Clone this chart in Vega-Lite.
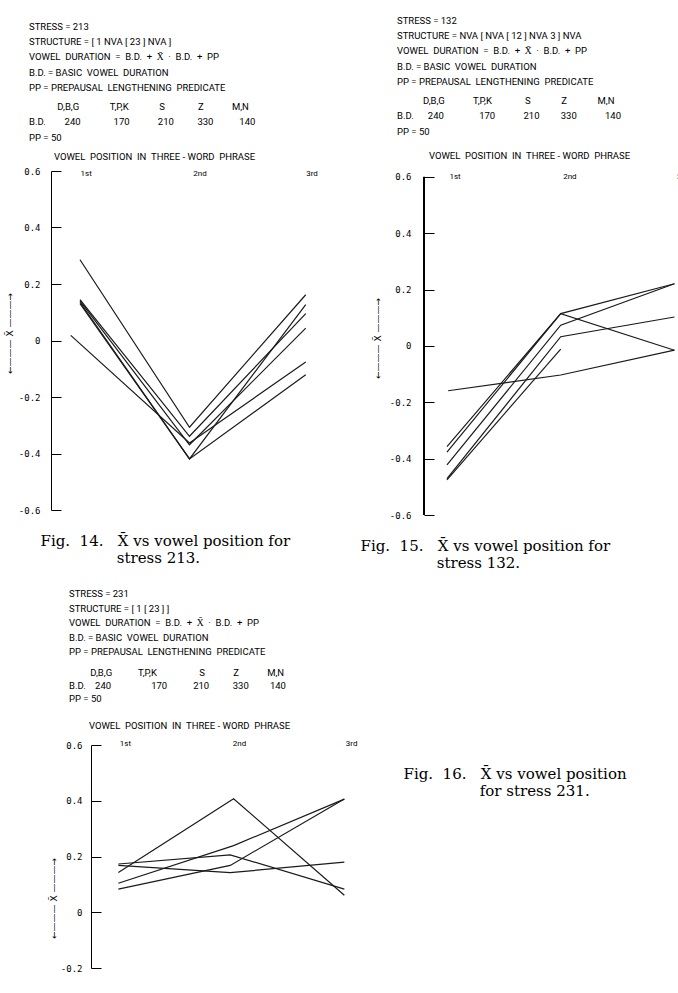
{
  "$schema": "https://vega.github.io/schema/vega-lite/v6.json",
  "background": "white",
  "padding": {"left": 5, "top": 15, "right": 0, "bottom": 0},
  "config": {
    "view": {"stroke": null},
    "axis": {"grid": false, "domainColor": "black", "tickColor": "black", "labelColor": "black", "titleColor": "black", "labelOverlap": false, "labelFlush": false},
    "title": {"color": "black", "subtitleColor": "black"}
  },
  "datasets": {
    "fig14": [
      {"s": "a", "pos": 1, "v": 0.286}, {"s": "a", "pos": 1.97, "v": -0.307}, {"s": "a", "pos": 3, "v": 0.162},
      {"s": "b", "pos": 1, "v": 0.145}, {"s": "b", "pos": 1.97, "v": -0.339}, {"s": "b", "pos": 3, "v": 0.095},
      {"s": "c", "pos": 1, "v": 0.140}, {"s": "c", "pos": 1.97, "v": -0.369}, {"s": "c", "pos": 3, "v": 0.044},
      {"s": "d", "pos": 1, "v": 0.135}, {"s": "d", "pos": 1.97, "v": -0.419}, {"s": "d", "pos": 3, "v": 0.127},
      {"s": "e", "pos": 1, "v": 0.130}, {"s": "e", "pos": 1.97, "v": -0.419}, {"s": "e", "pos": 3, "v": -0.121},
      {"s": "f", "pos": 0.918, "v": 0.018}, {"s": "f", "pos": 1.97, "v": -0.363}, {"s": "f", "pos": 3, "v": -0.076}
    ],
    "fig15": [
      {"s": "a", "pos": 1.01, "v": -0.159}, {"s": "a", "pos": 2, "v": -0.103}, {"s": "a", "pos": 3, "v": -0.015},
      {"s": "b", "pos": 1, "v": -0.357}, {"s": "b", "pos": 2, "v": 0.115}, {"s": "b", "pos": 3, "v": 0.221},
      {"s": "c", "pos": 1, "v": -0.377}, {"s": "c", "pos": 2, "v": 0.115}, {"s": "c", "pos": 3, "v": -0.015},
      {"s": "d", "pos": 1, "v": -0.422}, {"s": "d", "pos": 2, "v": 0.074}, {"s": "d", "pos": 3, "v": 0.221},
      {"s": "e", "pos": 1, "v": -0.471}, {"s": "e", "pos": 2, "v": 0.033}, {"s": "e", "pos": 3, "v": 0.103},
      {"s": "f", "pos": 1, "v": -0.475}, {"s": "f", "pos": 2, "v": -0.011}
    ],
    "fig16": [
      {"s": "a", "pos": 1, "v": 0.143}, {"s": "a", "pos": 2.02, "v": 0.407}, {"s": "a", "pos": 3, "v": 0.061},
      {"s": "b", "pos": 1, "v": 0.173}, {"s": "b", "pos": 1.99, "v": 0.206}, {"s": "b", "pos": 3, "v": 0.083},
      {"s": "c", "pos": 1, "v": 0.168}, {"s": "c", "pos": 1.99, "v": 0.142}, {"s": "c", "pos": 3, "v": 0.180},
      {"s": "d", "pos": 1, "v": 0.104}, {"s": "d", "pos": 2.02, "v": 0.239}, {"s": "d", "pos": 3, "v": 0.406},
      {"s": "e", "pos": 1, "v": 0.083}, {"s": "e", "pos": 1.99, "v": 0.168}, {"s": "e", "pos": 3, "v": 0.406}
    ]
  },
  "columns": 2,
  "spacing": {"row": 230, "column": 73},
  "bounds": "flush",
  "concat": [
    {
      "width": 300, "height": 339,
      "data": {"name": "fig14"},
      "title": {
        "text": ["STRESS = 213", "STRUCTURE = [ 1 NVA [ 23 ] NVA ]", "VOWEL\u00a0\u00a0DURATION\u00a0\u00a0=\u00a0\u00a0B.D.\u00a0\u00a0+\u00a0\u00a0X\u0304\u00a0\u00a0\u00b7\u00a0\u00a0B.D.\u00a0\u00a0+\u00a0\u00a0PP", "B.D. = BASIC\u00a0\u00a0VOWEL\u00a0\u00a0DURATION", "PP = PREPAUSAL\u00a0\u00a0LENGTHENING\u00a0\u00a0PREDICATE"],
        "subtitle": [
          "\u200b\u00a0\u00a0\u00a0\u00a0\u00a0\u00a0\u00a0\u00a0\u00a0\u00a0\u00a0\u00a0D,B,G\u00a0\u00a0\u00a0\u00a0\u00a0\u00a0\u00a0\u00a0\u00a0\u00a0\u00a0\u00a0\u00a0T,P,K\u00a0\u00a0\u00a0\u00a0\u00a0\u00a0\u00a0\u00a0\u00a0\u00a0\u00a0\u00a0\u00a0S\u00a0\u00a0\u00a0\u00a0\u00a0\u00a0\u00a0\u00a0\u00a0\u00a0\u00a0\u00a0\u00a0\u00a0Z\u00a0\u00a0\u00a0\u00a0\u00a0\u00a0\u00a0\u00a0\u00a0\u00a0\u00a0\u00a0M,N",
          "B.D.\u00a0\u00a0\u00a0\u00a0\u00a0\u00a0\u00a0\u00a0240\u00a0\u00a0\u00a0\u00a0\u00a0\u00a0\u00a0\u00a0\u00a0\u00a0\u00a0\u00a0\u00a0\u00a0170\u00a0\u00a0\u00a0\u00a0\u00a0\u00a0\u00a0\u00a0\u00a0\u00a0\u00a0\u00a0210\u00a0\u00a0\u00a0\u00a0\u00a0\u00a0\u00a0\u00a0\u00a0\u00a0330\u00a0\u00a0\u00a0\u00a0\u00a0\u00a0\u00a0\u00a0\u00a0\u00a0\u00a0140",
          "PP = 50"],
        "anchor": "start", "frame": "group", "dx": -22, "offset": 9,
        "font": "Roboto", "fontSize": 9.5, "fontWeight": "normal", "lineHeight": 15.3,
        "subtitleFont": "Roboto", "subtitleFontSize": 9.5, "subtitleLineHeight": 15.5, "subtitlePadding": 9
      },
      "layer": [
        {
          "mark": {"type": "line", "color": "#1a1a1a", "strokeWidth": 1.2},
          "encoding": {
            "x": {"field": "pos", "type": "quantitative", "scale": {"domain": [0.743, 3.401], "nice": false, "zero": false},
              "axis": {"orient": "top", "values": [1, 2, 3], "labelExpr": "datum.value == 1 ? '1st' : datum.value == 2 ? '2nd' : '3rd'", "domain": false, "ticks": false, "tickSize": 0, "labelAlign": "left", "labelBaseline": "middle", "labelPadding": -2, "labelFont": "Roboto", "labelFontSize": 8,
                "title": "VOWEL\u00a0\u00a0POSITION\u00a0\u00a0IN\u00a0\u00a0THREE\u00a0-\u00a0WORD\u00a0\u00a0PHRASE", "titleX": 103, "titleY": -15, "titleAlign": "center", "titleBaseline": "middle", "titleFont": "Roboto", "titleFontSize": 9.5, "titleFontWeight": "normal"}},
            "y": {"field": "v", "type": "quantitative", "scale": {"domain": [-0.6, 0.6], "nice": false, "zero": false},
              "axis": {"values": [-0.6, -0.4, -0.2, 0, 0.2, 0.4, 0.6], "labelExpr": "datum.value == 0 ? '0' : replace(format(datum.value, '.1f'), '\u2212', '-')", "tickSize": -10, "labelPadding": 21, "labelFont": "DejaVu Sans Mono", "labelFontSize": 9,
                "title": "\u2190\u2014\u2014\u2014 X\u0304 \u2014\u2014\u2014\u2192", "titleX": -42, "titleY": 162, "titleAngle": -90, "titleAlign": "center", "titleBaseline": "middle", "titleFont": "DejaVu Sans", "titleFontSize": 9, "titleFontWeight": "normal", "titleColor": "black"}},
            "detail": {"field": "s"}
          }
        },
        {
          "mark": {"type": "line", "opacity": 0},
          "encoding": {
            "x": {"field": "pos", "type": "quantitative",
              "axis": {"orient": "bottom", "domain": false, "ticks": false, "labels": false,
                "title": ["Fig.\u00a0\u00a014.\u00a0\u00a0\u00a0X\u0304 vs vowel position for", "\u200b\u00a0\u00a0\u00a0\u00a0\u00a0\u00a0\u00a0\u00a0\u00a0\u00a0\u00a0\u00a0\u00a0\u00a0\u00a0\u00a0stress 213."],
                "titleX": -11, "titleY": 30, "titleAlign": "left", "titleBaseline": "middle", "titleAngle": 0, "titleFont": "DejaVu Serif", "titleFontSize": 15, "titleFontWeight": "normal", "titleLineHeight": 17.5}},
            "y": {"field": "v", "type": "quantitative", "axis": null},
            "detail": {"field": "s"}
          }
        }
      ],
      "resolve": {"axis": {"x": "independent", "y": "independent"}}
    },
    {
      "width": 270, "height": 344,
      "data": {"name": "fig15"},
      "title": {
        "text": ["STRESS = 132", "STRUCTURE = NVA [ NVA [ 12 ] NVA 3 ] NVA", "VOWEL\u00a0\u00a0DURATION\u00a0\u00a0=\u00a0\u00a0B.D.\u00a0\u00a0+\u00a0\u00a0X\u0304\u00a0\u00a0\u00b7\u00a0\u00a0B.D.\u00a0\u00a0+\u00a0\u00a0PP", "B.D. = BASIC\u00a0\u00a0VOWEL\u00a0\u00a0DURATION", "PP = PREPAUSAL\u00a0\u00a0LENGTHENING\u00a0\u00a0PREDICATE"],
        "subtitle": [
          "\u200b\u00a0\u00a0\u00a0\u00a0\u00a0\u00a0\u00a0\u00a0\u00a0\u00a0\u00a0D,B,G\u00a0\u00a0\u00a0\u00a0\u00a0\u00a0\u00a0\u00a0\u00a0\u00a0\u00a0\u00a0T,P,K\u00a0\u00a0\u00a0\u00a0\u00a0\u00a0\u00a0\u00a0\u00a0\u00a0\u00a0\u00a0\u00a0\u00a0S\u00a0\u00a0\u00a0\u00a0\u00a0\u00a0\u00a0\u00a0\u00a0\u00a0\u00a0\u00a0\u00a0Z\u00a0\u00a0\u00a0\u00a0\u00a0\u00a0\u00a0\u00a0\u00a0\u00a0\u00a0\u00a0\u00a0M,N",
          "B.D.\u00a0\u00a0\u00a0\u00a0\u00a0\u00a0240\u00a0\u00a0\u00a0\u00a0\u00a0\u00a0\u00a0\u00a0\u00a0\u00a0\u00a0\u00a0\u00a0\u00a0\u00a0170\u00a0\u00a0\u00a0\u00a0\u00a0\u00a0\u00a0\u00a0\u00a0\u00a0\u00a0\u00a0210\u00a0\u00a0\u00a0\u00a0\u00a0\u00a0\u00a0\u00a0\u00a0330\u00a0\u00a0\u00a0\u00a0\u00a0\u00a0\u00a0\u00a0\u00a0\u00a0\u00a0\u00a0140",
          "PP = 50"],
        "anchor": "start", "frame": "group", "dx": -27, "offset": 14,
        "font": "Roboto", "fontSize": 9.5, "fontWeight": "normal", "lineHeight": 15.3,
        "subtitleFont": "Roboto", "subtitleFontSize": 9.5, "subtitleLineHeight": 15.5, "subtitlePadding": 9
      },
      "layer": [
        {
          "mark": {"type": "line", "color": "#1a1a1a", "strokeWidth": 1.2},
          "encoding": {
            "x": {"field": "pos", "type": "quantitative", "scale": {"domain": [0.798, 3.172], "nice": false, "zero": false},
              "axis": {"orient": "top", "values": [1, 2, 3], "labelExpr": "datum.value == 1 ? '1st' : datum.value == 2 ? '2nd' : '3rd'", "domain": false, "ticks": false, "tickSize": 0, "labelAlign": "left", "labelBaseline": "middle", "labelPadding": -5, "labelOffset": 2, "labelFont": "Roboto", "labelFontSize": 8,
                "title": "VOWEL\u00a0\u00a0POSITION\u00a0\u00a0IN\u00a0\u00a0THREE\u00a0-\u00a0WORD\u00a0\u00a0PHRASE", "titleX": 105, "titleY": -16, "titleAlign": "center", "titleBaseline": "middle", "titleFont": "Roboto", "titleFontSize": 9.5, "titleFontWeight": "normal"}},
            "y": {"field": "v", "type": "quantitative", "scale": {"domain": [-0.6, 0.6212], "nice": false, "zero": false},
              "axis": {"values": [-0.6, -0.4, -0.2, 0, 0.2, 0.4, 0.6], "labelExpr": "datum.value == 0 ? '0' : replace(format(datum.value, '.1f'), '\u2212', '-')", "domain": false, "tickSize": -10, "labelPadding": 23, "labelFont": "DejaVu Sans Mono", "labelFontSize": 9,
                "title": "\u2190\u2014\u2014\u2014 X\u0304 \u2014\u2014\u2014\u2192", "titleX": -47, "titleY": 167, "titleAngle": -90, "titleAlign": "center", "titleBaseline": "middle", "titleFont": "DejaVu Sans", "titleFontSize": 9, "titleFontWeight": "normal", "titleColor": "black"}},
            "detail": {"field": "s"}
          }
        },
        {
          "mark": {"type": "rule", "color": "black", "strokeWidth": 1},
          "encoding": {
            "x": {"datum": 0.798, "type": "quantitative", "axis": null},
            "y": {"datum": -0.6, "type": "quantitative", "axis": null},
            "y2": {"datum": 0.6}
          }
        },
        {
          "mark": {"type": "line", "opacity": 0},
          "encoding": {
            "x": {"field": "pos", "type": "quantitative",
              "axis": {"orient": "bottom", "domain": false, "ticks": false, "labels": false,
                "title": ["Fig.\u00a0\u00a015.\u00a0\u00a0\u00a0X\u0304 vs vowel position for", "\u200b\u00a0\u00a0\u00a0\u00a0\u00a0\u00a0\u00a0\u00a0\u00a0\u00a0\u00a0\u00a0\u00a0\u00a0\u00a0\u00a0stress 132."],
                "titleX": -64, "titleY": 30, "titleAlign": "left", "titleBaseline": "middle", "titleAngle": 0, "titleFont": "DejaVu Serif", "titleFontSize": 15, "titleFontWeight": "normal", "titleLineHeight": 17.5}},
            "y": {"field": "v", "type": "quantitative", "axis": null},
            "detail": {"field": "s"}
          }
        }
      ],
      "resolve": {"axis": {"x": "independent", "y": "independent"}}
    },
    {
      "width": 300, "height": 223,
      "data": {"name": "fig16"},
      "title": {
        "text": ["STRESS = 231", "STRUCTURE = [ 1 [ 23 ] ]", "VOWEL\u00a0\u00a0DURATION\u00a0\u00a0=\u00a0\u00a0B.D.\u00a0\u00a0+\u00a0\u00a0X\u0304\u00a0\u00a0\u00b7\u00a0\u00a0B.D.\u00a0\u00a0+\u00a0\u00a0PP", "B.D. = BASIC\u00a0\u00a0VOWEL\u00a0\u00a0DURATION", "PP = PREPAUSAL\u00a0\u00a0LENGTHENING\u00a0\u00a0PREDICATE"],
        "subtitle": [
          "\u200b\u00a0\u00a0\u00a0\u00a0\u00a0\u00a0\u00a0\u00a0\u00a0D,B,G\u00a0\u00a0\u00a0\u00a0\u00a0\u00a0\u00a0\u00a0\u00a0\u00a0\u00a0T,P,K\u00a0\u00a0\u00a0\u00a0\u00a0\u00a0\u00a0\u00a0\u00a0\u00a0\u00a0\u00a0\u00a0\u00a0\u00a0\u00a0\u00a0\u00a0S\u00a0\u00a0\u00a0\u00a0\u00a0\u00a0\u00a0\u00a0\u00a0\u00a0\u00a0\u00a0Z\u00a0\u00a0\u00a0\u00a0\u00a0\u00a0\u00a0\u00a0\u00a0\u00a0\u00a0\u00a0M,N",
          "B.D.\u00a0\u00a0\u00a0\u00a0240\u00a0\u00a0\u00a0\u00a0\u00a0\u00a0\u00a0\u00a0\u00a0\u00a0\u00a0\u00a0\u00a0\u00a0\u00a0\u00a0\u00a0170\u00a0\u00a0\u00a0\u00a0\u00a0\u00a0\u00a0\u00a0\u00a0\u00a0\u00a0210\u00a0\u00a0\u00a0\u00a0\u00a0\u00a0\u00a0\u00a0\u00a0\u00a0330\u00a0\u00a0\u00a0\u00a0\u00a0\u00a0\u00a0\u00a0\u00a0140",
          "PP = 50"],
        "anchor": "start", "frame": "group", "dx": 18, "offset": 17,
        "font": "Roboto", "fontSize": 9.5, "fontWeight": "normal", "lineHeight": 14.5,
        "subtitleFont": "Roboto", "subtitleFontSize": 9.5, "subtitleLineHeight": 13, "subtitlePadding": 11
      },
      "layer": [
        {
          "mark": {"type": "line", "color": "#1a1a1a", "strokeWidth": 1.2},
          "encoding": {
            "x": {"field": "pos", "type": "quantitative", "scale": {"domain": [0.404, 3.059], "nice": false, "zero": false},
              "axis": {"orient": "top", "values": [1, 2, 3], "labelExpr": "datum.value == 1 ? '1st' : datum.value == 2 ? '2nd' : '3rd'", "domain": false, "ticks": false, "tickSize": 0, "labelAlign": "left", "labelBaseline": "middle", "labelPadding": 2, "labelOffset": 1, "labelFont": "Roboto", "labelFontSize": 8,
                "title": "VOWEL\u00a0\u00a0POSITION\u00a0\u00a0IN\u00a0\u00a0THREE\u00a0-\u00a0WORD\u00a0\u00a0PHRASE", "titleX": 138, "titleY": -20, "titleAlign": "center", "titleBaseline": "middle", "titleFont": "Roboto", "titleFontSize": 9.5, "titleFontWeight": "normal"}},
            "y": {"field": "v", "type": "quantitative", "scale": {"domain": [-0.2, 0.6], "nice": false, "zero": false},
              "axis": {"values": [-0.2, 0, 0.2, 0.4, 0.6], "offset": -40, "labelExpr": "datum.value == 0 ? '0' : replace(format(datum.value, '.1f'), '\u2212', '-')", "tickSize": -10, "labelPadding": 19, "labelFont": "DejaVu Sans Mono", "labelFontSize": 9,
                "title": "\u2190\u2014\u2014\u2014 X\u0304 \u2014\u2014\u2014\u2192", "titleX": -38, "titleY": 153, "titleAngle": -90, "titleAlign": "center", "titleBaseline": "middle", "titleFont": "DejaVu Sans", "titleFontSize": 9, "titleFontWeight": "normal", "titleColor": "black"}},
            "detail": {"field": "s"}
          }
        },
        {
          "mark": {"type": "line", "opacity": 0},
          "encoding": {
            "x": {"field": "pos", "type": "quantitative",
              "axis": {"orient": "bottom", "domain": false, "ticks": false, "labels": false,
                "title": ["Fig.\u00a0\u00a016.\u00a0\u00a0\u00a0X\u0304 vs vowel position", "\u200b\u00a0\u00a0\u00a0\u00a0\u00a0\u00a0\u00a0\u00a0\u00a0\u00a0\u00a0\u00a0\u00a0\u00a0\u00a0\u00a0for stress 231."],
                "titleX": 352, "titleY": -195, "titleAlign": "left", "titleBaseline": "middle", "titleAngle": 0, "titleFont": "DejaVu Serif", "titleFontSize": 15, "titleFontWeight": "normal", "titleLineHeight": 17.5}},
            "y": {"field": "v", "type": "quantitative", "axis": null},
            "detail": {"field": "s"}
          }
        }
      ],
      "resolve": {"axis": {"x": "independent", "y": "independent"}}
    }
  ]
}
